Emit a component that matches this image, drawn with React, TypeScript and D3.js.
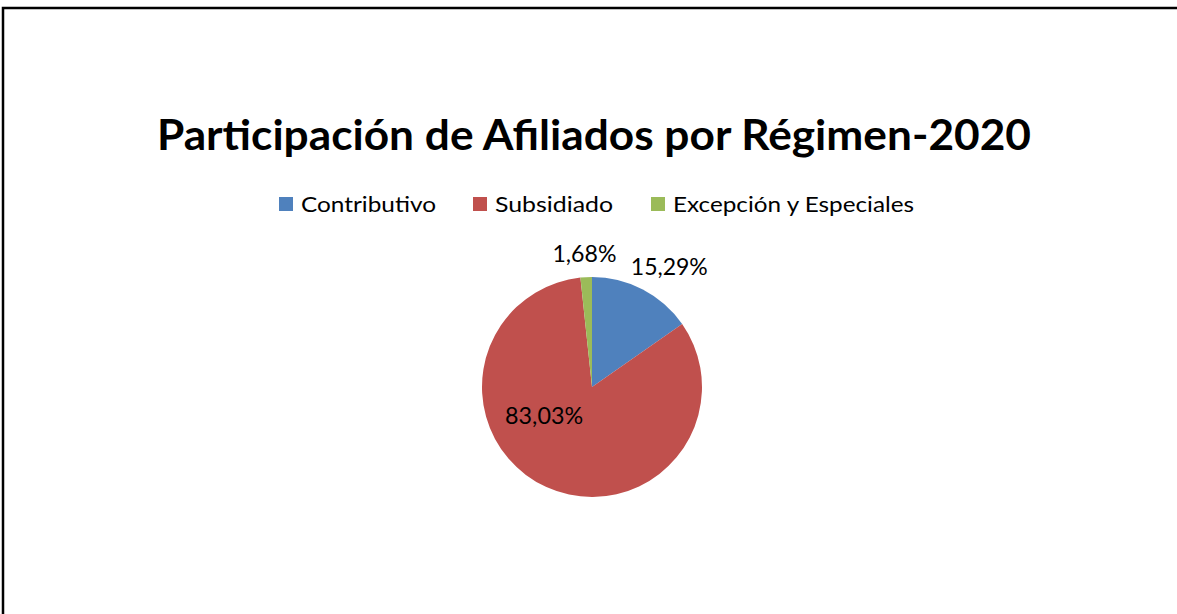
import React from "react";
import * as d3 from "d3";

const categories = ["Contributivo", "Subsidiado", "Excepción y Especiales"];
const values = [15.29, 83.03, 1.68];
const valueLabels = ["15,29%", "83,03%", "1,68%"];
const colors = ["#4F81BD", "#C0504D", "#9BBB59"];
const title = "Participación de Afiliados por Régimen-2020";

const W = 1177;
const H = 614;
const FONT = "Lato, 'Open Sans', sans-serif";

export default function App() {
  const cx = 592;
  const cy = 387;
  const r = 110;
  const pie = d3.pie<number>().sort(null).value((d) => d);
  const arcs = pie(values);
  const arcGen = d3.arc<d3.PieArcDatum<number>>().innerRadius(0).outerRadius(r);

  // label placement (Excel best fit): outside for small slices, inside for large
  const labelPos = arcs.map((a) => {
    const mid = (a.startAngle + a.endAngle) / 2;
    const frac = a.endAngle - a.startAngle;
    if (frac > Math.PI) {
      const rr = r * 0.55;
      const ang = mid + 0.85;
      return { x: Math.sin(ang) * rr + 10, y: -Math.cos(ang) * rr + 20 };
    }
    const rr = r + 14;
    const s = Math.sin(mid);
    return {
      x: s * rr + (s >= 0 ? 20 : -1),
      y: -Math.cos(mid) * rr - (s >= 0 ? 2 : 1),
    };
  });
  const labelWidths = [77, 78, 64];

  // legend layout
  const legendX = [279, 473, 651];
  const legendTextW = [135, 118, 241];

  return (
    <svg
      width={W}
      height={H}
      style={{ position: "absolute", left: 0, top: 0, background: "#fff" }}
    >
      <rect x={3} y={8} width={1300} height={800} fill="#fff" stroke="#000" strokeWidth={2.5} />
      <text
        x={594}
        y={150}
        textAnchor="middle"
        fontFamily={FONT}
        fontWeight={700}
        fontSize={42}
        textLength={874}
        lengthAdjust="spacingAndGlyphs"
        fill="#000"
      >
        {title}
      </text>
      <g>
        {categories.map((c, i) => (
          <g key={c}>
            <rect x={legendX[i]} y={197} width={14} height={14} fill={colors[i]} />
            <text
              x={legendX[i] + 22}
              y={212}
              fontFamily={FONT}
              fontSize={21}
              textLength={legendTextW[i]}
              lengthAdjust="spacingAndGlyphs"
              fill="#000"
            >
              {c}
            </text>
          </g>
        ))}
      </g>
      <g transform={`translate(${cx},${cy})`}>
        {arcs.map((a, i) => (
          <path key={i} d={arcGen(a) || ""} fill={colors[i]} />
        ))}
        {arcs.map((a, i) => (
          <text
            key={"l" + i}
            x={labelPos[i].x}
            y={labelPos[i].y}
            textAnchor="middle"
            fontFamily={FONT}
            fontSize={23}
            textLength={labelWidths[i]}
            lengthAdjust="spacingAndGlyphs"
            fill="#000"
          >
            {valueLabels[i]}
          </text>
        ))}
      </g>
    </svg>
  );
}
